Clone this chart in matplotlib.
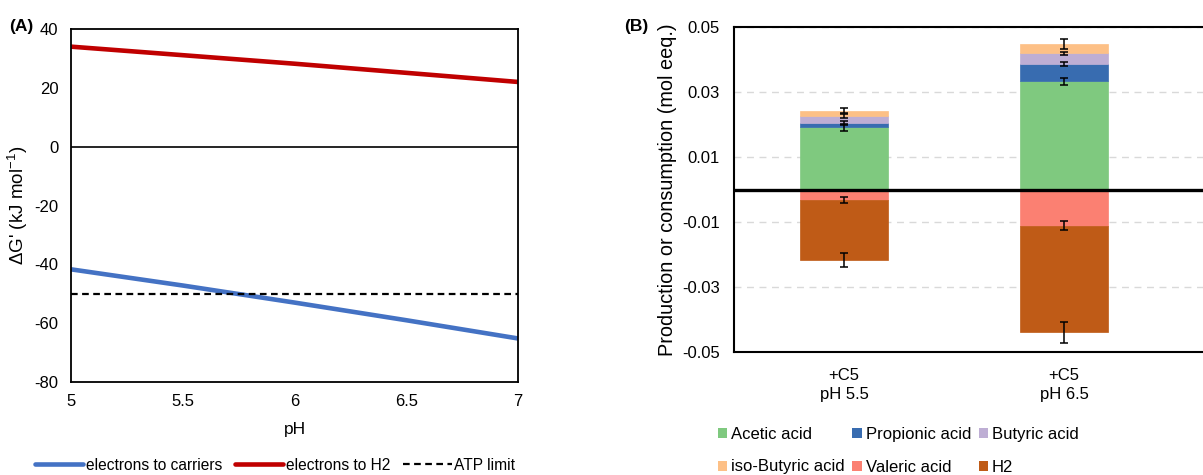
import matplotlib
matplotlib.use("Agg")
import matplotlib.pyplot as plt
from matplotlib.patches import Patch
from matplotlib.lines import Line2D
import numpy as np

plt.rcParams['font.family'] = ['Liberation Sans', 'DejaVu Sans']
plt.rcParams['mathtext.fontset'] = 'custom'
plt.rcParams['mathtext.rm'] = 'Liberation Sans'
plt.rcParams['axes.unicode_minus'] = False

# ---- panel A data ----
ph = [5, 5.5, 6, 6.5, 7]
dg_carriers = [-41.7, -47.2, -53.0, -59.0, -65.2]
dg_h2 = [34.0, 31.1, 28.2, 25.1, 22.0]
atp_limit = -50

# ---- panel B data ----
conditions = ['+C5\npH 5.5', '+C5\npH 6.5']
acetic = [0.0192, 0.0334]
propionic = [0.0014, 0.0054]
butyric = [0.0021, 0.0032]
iso_butyric = [0.0017, 0.0028]
valeric = [-0.0032, -0.0110]
h2 = [-0.0183, -0.0329]
err_acetic = [0.0012, 0.0011]
err_propionic = [0.0006, 0.0006]
err_butyric = [0.0006, 0.0005]
err_iso = [0.0008, 0.0015]
err_valeric = [0.0010, 0.0014]
err_h2 = [0.0022, 0.0033]

W, H = 1203, 475
fig = plt.figure(figsize=(W / 100, H / 100), dpi=100)

fs = 12

# ---------------- panel A ----------------
axA = fig.add_axes([71 / W, 1 - 382 / H, 447 / W, 353 / H])
axA.plot(ph, dg_carriers, color='#4472C4', lw=3.3, solid_capstyle='butt')
axA.plot(ph, dg_h2, color='#C00000', lw=3.3, solid_capstyle='butt')
axA.axhline(atp_limit, color='black', lw=1.6, ls=(0, (3, 2)))
axA.axhline(0, color='black', lw=1.2, zorder=1)
axA.set_xlim(5, 7)
axA.set_ylim(-80, 40)
axA.set_xticks([5, 5.5, 6, 6.5, 7])
axA.set_xticklabels(['5', '5.5', '6', '6.5', '7'])
axA.set_yticks(np.arange(-80, 41, 20))
axA.tick_params(length=0, labelsize=fs, pad=9)
for s in axA.spines.values():
    s.set_linewidth(1.3)
axA.set_xlabel('pH', fontsize=fs + 0.5, labelpad=9)
axA.set_ylabel(r"ΔG' (kJ mol$^{\mathregular{-1}}$)", fontsize=13.5, labelpad=3)
fig.text(9 / W, 1 - 27 / H, '(A)', fontsize=fs + 0.5, fontweight='bold', va='center', ha='left')

hA = [Line2D([], [], color='#4472C4', lw=3.3, solid_capstyle='round'),
      Line2D([], [], color='#C00000', lw=3.3, solid_capstyle='round'),
      Line2D([], [], color='black', lw=1.6, ls=(0, (3, 2)))]
fig.legend(hA, ['electrons to carriers', 'electrons to H2', 'ATP limit'],
           loc='center', bbox_to_anchor=(275 / W, 1 - 465 / H), ncol=3, frameon=False,
           fontsize=11.2, handlelength=3.1, handletextpad=0.15, columnspacing=0.85)

# ---------------- panel B ----------------
axB = fig.add_axes([734 / W, 1 - 352.3 / H, 480 / W, 325 / H])
x = np.arange(len(conditions))
bw = 0.4
colors = {'Acetic acid': '#7FC97F', 'Propionic acid': '#386CB0', 'Butyric acid': '#BEAED4',
          'iso-Butyric acid': '#FDC086', 'Valeric acid': '#FB8072', 'H2': '#BF5B17'}

pos = [('Acetic acid', acetic, err_acetic), ('Propionic acid', propionic, err_propionic),
       ('Butyric acid', butyric, err_butyric), ('iso-Butyric acid', iso_butyric, err_iso)]
neg = [('Valeric acid', valeric, err_valeric), ('H2', h2, err_h2)]

for group in (pos, neg):
    bottom = np.zeros(len(x))
    for name, vals, errs in group:
        vals = np.array(vals)
        axB.bar(x, vals, bw, bottom=bottom, color=colors[name], edgecolor=colors[name],
                lw=0.5, zorder=2)
        top = bottom + vals
        axB.errorbar(x, top, yerr=errs, fmt='none', ecolor='black', elinewidth=1.1,
                     capsize=3.2, capthick=1.1, zorder=4)
        bottom = top

axB.axhline(0, color='black', lw=2.4, zorder=3)
axB.set_ylim(-0.05, 0.05)
axB.set_xlim(-0.5, -0.5 + 480 / 220)
ticks = [-0.05, -0.03, -0.01, 0.01, 0.03, 0.05]
axB.set_yticks(ticks)
axB.set_yticklabels(['%.2f' % t for t in ticks])
axB.yaxis.grid(True, color='#D9D9D9', ls=(0, (5, 4)), lw=1)
axB.set_axisbelow(True)
axB.set_xticks(x)
axB.set_xticklabels(conditions, fontsize=fs, linespacing=1.35)
axB.tick_params(axis='y', length=0, labelsize=fs, pad=10)
axB.tick_params(axis='x', length=0, labelsize=fs, pad=11)
axB.spines['right'].set_visible(False)
for s in ('top', 'bottom', 'left'):
    axB.spines[s].set_linewidth(1.5)
axB.set_ylabel('Production or consumption (mol eeq.)', fontsize=14.3, labelpad=4)
fig.text(624 / W, 1 - 27 / H, '(B)', fontsize=fs + 0.5, fontweight='bold', va='center', ha='left')

names = ['Acetic acid', 'iso-Butyric acid', 'Propionic acid', 'Valeric acid', 'Butyric acid', 'H2']
hB = [Patch(facecolor=colors[n], edgecolor='none') for n in names]
fig.legend(hB, names, loc='upper left', bbox_to_anchor=(703 / W, 1 - 412 / H), ncol=3,
           frameon=False, fontsize=fs, handlelength=0.55, handleheight=0.55,
           handletextpad=0.25, columnspacing=0.45, labelspacing=1.05)

fig.savefig('out.png', dpi=100)
